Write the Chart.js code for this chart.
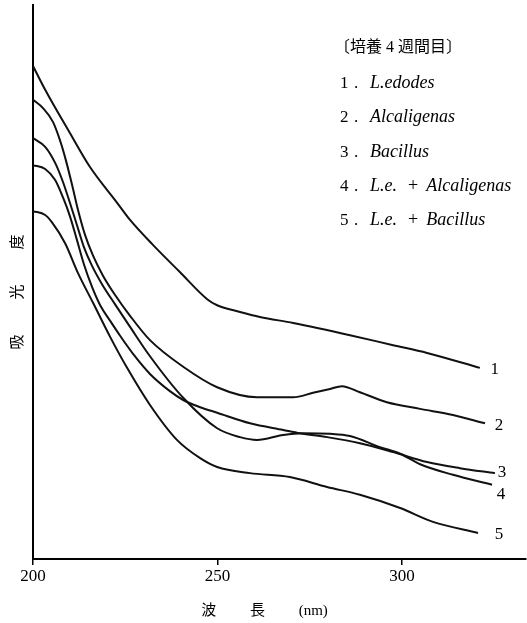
<!DOCTYPE html>
<html><head><meta charset="utf-8">
<script src="https://cdn.jsdelivr.net/npm/chart.js@4"></script>
<style>html,body{margin:0;padding:0;background:#fff;overflow:hidden}</style>
</head><body>
<canvas id="c" width="527" height="623"></canvas>
<script>
// ---- data (wavelength nm, absorbance arbitrary units) ----
const seriesNames = ['L.edodes', 'Alcaligenas', 'Bacillus', 'L.e. + Alcaligenas', 'L.e. + Bacillus'];
const legendTitle = '〔培養 4 週間目〕';
const xTicks = [200, 250, 300];

const wl1 = [200.0,203.3,210.0,215.4,222.8,226.3,232.5,239.8,247.2,249.9,256.1,261.5,270.5,285.9,297.6,306.8,321.1];
const abs1 = [0.890,0.847,0.769,0.708,0.643,0.612,0.567,0.518,0.469,0.458,0.446,0.437,0.426,0.404,0.386,0.372,0.345];

const wl2 = [200.0,202.7,205.4,207.3,208.9,210.6,212.2,214.1,216.3,219.0,222.2,226.3,231.7,240.7,249.9,260.7,270.5,275.9,280.5,283.7,288.6,295.9,304.9,313.8,322.5];
const abs2 = [0.829,0.814,0.789,0.756,0.720,0.675,0.630,0.585,0.547,0.511,0.477,0.439,0.395,0.347,0.310,0.292,0.292,0.300,0.307,0.312,0.301,0.283,0.271,0.260,0.245];

const wl3 = [200.0,203.3,206.0,208.1,210.0,211.9,213.8,216.0,218.2,220.9,223.6,227.6,231.7,237.1,240.7,245.3,249.9,258.8,267.8,272.4,279.7,288.6,297.6,306.8,315.7,325.2];
const abs3 = [0.711,0.704,0.684,0.653,0.619,0.576,0.532,0.491,0.458,0.430,0.403,0.366,0.334,0.303,0.287,0.274,0.264,0.245,0.233,0.227,0.220,0.209,0.193,0.175,0.164,0.155];

const wl4 = [200.0,203.3,206.0,208.1,210.0,211.9,213.8,216.0,218.7,222.2,226.3,231.7,240.7,249.9,256.1,260.7,267.8,273.2,280.5,285.9,294.0,299.5,304.9,313.8,324.4];
const abs4 = [0.760,0.744,0.715,0.681,0.643,0.603,0.563,0.529,0.496,0.460,0.419,0.366,0.291,0.236,0.220,0.215,0.224,0.227,0.226,0.222,0.202,0.190,0.171,0.152,0.134];

const wl5 = [200.0,203.3,205.1,208.7,212.2,216.3,220.9,225.5,231.7,239.0,245.3,249.9,258.8,269.6,279.7,288.6,299.5,308.4,320.6];
const abs5 = [0.628,0.621,0.608,0.570,0.516,0.462,0.401,0.345,0.278,0.215,0.182,0.166,0.155,0.148,0.130,0.116,0.092,0.067,0.047];

const wls = [wl1, wl2, wl3, wl4, wl5];
const absv = [abs1, abs2, abs3, abs4, abs5];

// ---- styling / layout ----
const SERIF = '"Liberation Serif", "Noto Sans CJK JP", serif';
const endLabelOffsets = [[15, 2], [14, 2], [7, -1], [9, 10], [21, 2]];

Chart.defaults.font.family = SERIF;
Chart.defaults.color = '#000';

const datasets = wls.map((w, i) => ({
  label: seriesNames[i],
  data: w.map((x, j) => ({ x: x, y: absv[i][j] })),
  showLine: true,
  borderColor: '#111',
  borderWidth: 2,
  pointRadius: 0,
  fill: false,
  cubicInterpolationMode: 'monotone'
}));

const overlay = {
  id: 'overlay',
  afterDatasetsDraw(chart) {
    const ctx = chart.ctx;
    ctx.save();
    ctx.fillStyle = '#000';
    // curve end numbers
    ctx.font = '17px ' + SERIF;
    ctx.textAlign = 'center';
    ctx.textBaseline = 'middle';
    chart.data.datasets.forEach((ds, i) => {
      const meta = chart.getDatasetMeta(i);
      const pt = meta.data[meta.data.length - 1];
      const o = endLabelOffsets[i];
      ctx.fillText(String(i + 1), pt.x + o[0], pt.y + o[1]);
    });
    // legend block
    ctx.textAlign = 'left';
    ctx.textBaseline = 'middle';
    ctx.font = '16px ' + SERIF;
    ctx.fillText(legendTitle, 334, 48);
    ctx.textBaseline = 'alphabetic';
    seriesNames.forEach((name, i) => {
      const y = 88 + i * 34.3;
      ctx.font = '17px ' + SERIF;
      ctx.fillText(String(i + 1), 340, y);
      ctx.fillText('.', 354, y);
      const parts = name.split(' + ');
      ctx.font = 'italic 18px "Liberation Serif"';
      ctx.fillText(parts[0], 370, y);
      if (parts.length > 1) {
        const w0 = ctx.measureText(parts[0]).width;
        ctx.font = '18px "Liberation Serif"';
        const px = 370 + w0 + 11;
        ctx.fillText('+', px, y);
        const wp = ctx.measureText('+').width;
        ctx.font = 'italic 18px "Liberation Serif"';
        ctx.fillText(parts[1], px + wp + 8, y);
      }
    });
    ctx.restore();
  }
};

new Chart(document.getElementById('c'), {
  type: 'scatter',
  data: { datasets: datasets },
  options: {
    responsive: false,
    animation: false,
    devicePixelRatio: 1,
    layout: { padding: { top: 5, right: 1, left: 0, bottom: 0 } },
    plugins: { legend: { display: false }, tooltip: { enabled: false } },
    scales: {
      x: {
        type: 'linear',
        min: 200,
        max: 333.6,
        afterFit: s => { s.height = 64; },
        afterBuildTicks: s => { s.ticks = xTicks.map(v => ({ value: v })); },
        ticks: { font: { size: 17, family: SERIF }, color: '#000', padding: 1, maxRotation: 0, callback: v => String(v) },
        grid: { display: true, drawOnChartArea: false, drawTicks: true, tickLength: 6, color: '#000', lineWidth: 1.5 },
        border: { display: true, color: '#000', width: 2 },
        title: { display: true, text: '波\u3000\u3000 長\u3000\u3000 (nm)\u3000\u3000', font: { size: 15, family: SERIF }, color: '#000', padding: { top: 0, bottom: 3 } }
      },
      y: {
        min: 0,
        max: 1.0,
        afterFit: s => { s.width = 33; },
        ticks: { display: false },
        grid: { display: false },
        border: { display: true, color: '#000', width: 2 },
        title: { display: true, text: '吸\u3000\u3000\u2004光\u3000\u3000\u2004度\u3000\u2004', font: { size: 15, family: SERIF }, color: '#000', padding: { top: 9, bottom: 0 } }
      }
    }
  },
  plugins: [overlay]
});
</script>
</body></html>
